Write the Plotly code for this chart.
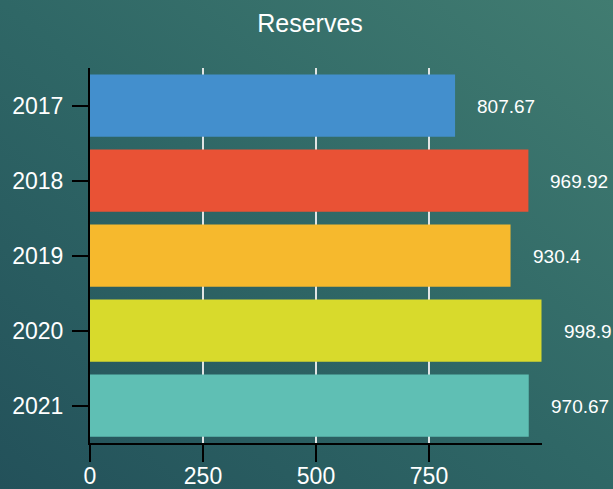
import base64
import plotly.graph_objects as go

years = ["2017", "2018", "2019", "2020", "2021"]
reserves = [807.67, 969.92, 930.4, 998.9, 970.67]
bar_colors = ["#438fcd", "#e95235", "#f6b92d", "#d8da2c", "#5fbfb4"]
x_ticks = [0, 250, 500, 750]

FONT = "Liberation Sans, Arial, sans-serif"

# diagonal teal gradient used as the page background
svg = (
    '<svg xmlns="http://www.w3.org/2000/svg" width="613" height="489" preserveAspectRatio="none">'
    '<defs><linearGradient id="g" x1="0" y1="1" x2="1" y2="0">'
    '<stop offset="0" stop-color="#23515a"/>'
    '<stop offset="0.5" stop-color="#2f6766"/>'
    '<stop offset="1" stop-color="#417c71"/>'
    '</linearGradient></defs>'
    '<rect width="613" height="489" fill="url(#g)"/></svg>'
)
bg_uri = "data:image/svg+xml;base64," + base64.b64encode(svg.encode()).decode()

fig = go.Figure(
    go.Bar(
        x=reserves,
        y=years,
        orientation="h",
        marker=dict(color=bar_colors, line=dict(width=0)),
        width=0.83,
        hoverinfo="x+y",
    )
)

# value labels, placed by category index on the y axis
for i, val in enumerate(reserves):
    fig.add_annotation(
        x=val, y=i, xref="x", yref="y",
        text=str(val), showarrow=False,
        xanchor="left", xshift=20, yshift=-1,
        font=dict(family=FONT, size=19, color="white"),
    )

fig.update_layout(
    width=613, height=489,
    margin=dict(l=90, r=71, t=68, b=46, autoexpand=False),
    paper_bgcolor="rgba(0,0,0,0)",
    plot_bgcolor="rgba(0,0,0,0)",
    showlegend=False,
    title=dict(
        text="Reserves", x=310 / 613, xanchor="center", y=0.953, yanchor="middle",
        font=dict(family=FONT, size=25, color="white"),
    ),
    images=[dict(
        source=bg_uri, xref="paper", yref="paper", x=-90 / 452, y=1 + 68 / 375,
        sizex=613 / 452, sizey=489 / 375, sizing="stretch",
        xanchor="left", yanchor="top", layer="below",
    )],
    xaxis=dict(
        range=[0, 1000], tickvals=x_ticks, ticktext=[str(v) for v in x_ticks],
        showgrid=True, gridcolor="rgba(235,235,235,0.95)", gridwidth=2,
        zeroline=False, showline=True, linecolor="black", linewidth=2,
        ticks="outside", ticklen=17, tickwidth=2, tickcolor="black",
        ticklabelstandoff=-6,
        tickfont=dict(family=FONT, size=23, color="white"),
        automargin=False, fixedrange=True,
    ),
    yaxis=dict(
        type="category", categoryorder="array", categoryarray=years,
        autorange=False, range=[4.5, -0.5],
        showgrid=False, zeroline=False, showline=True, linecolor="black", linewidth=2,
        ticks="outside", ticklen=16, tickwidth=2, tickcolor="black",
        ticklabelstandoff=4,
        tickfont=dict(family=FONT, size=23, color="white"),
        automargin=False, fixedrange=True,
    ),
)

# the last value label runs past the right edge; keep the page from scrolling
page_js = (
    "document.documentElement.style.overflow='hidden';"
    "document.body.style.overflow='hidden';"
    "document.body.style.margin='0';"
)

fig.write_html("out.html", post_script=page_js, config={"displayModeBar": False})
